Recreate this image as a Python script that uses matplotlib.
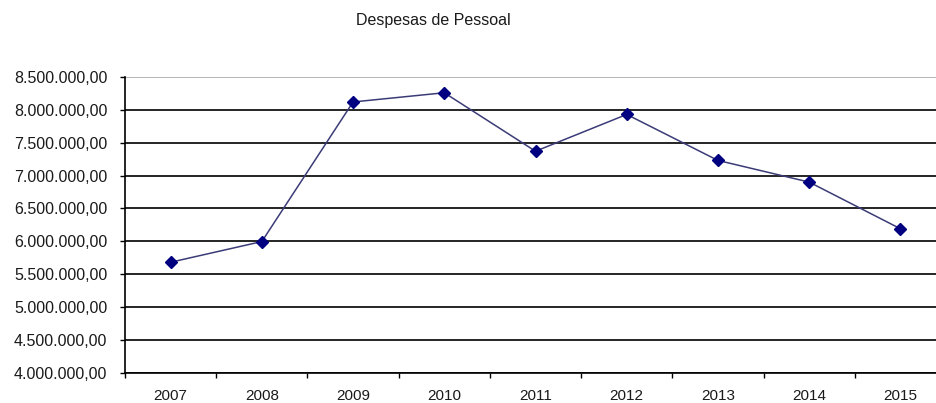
import matplotlib
matplotlib.use('Agg')
import matplotlib.pyplot as plt
from matplotlib.ticker import FuncFormatter, FixedLocator
import numpy as np

plt.rcParams['font.family'] = ['Liberation Sans', 'DejaVu Sans']

#Plot data
years = ['2007', '2008', '2009', '2010', '2011', '2012', '2013', '2014', '2015']
despesas = [5680000, 5995000, 8120000, 8260000, 7370000, 7930000, 7230000, 6900000, 6190000]

fig = plt.figure(figsize=(9.36, 4.03), dpi=100)
ax = fig.add_axes([125 / 936, 30.4 / 403, 821 / 936, 295.6 / 403])

x = np.arange(len(years))
ax.plot(x, despesas, color='#3b3b78', linewidth=1.1, marker='D', markersize=6,
        markerfacecolor='#000080', markeredgecolor='#000080', zorder=3)

ax.set_xlim(-0.5, len(years) - 0.5)
ax.set_ylim(4000000, 8500000)
ax.set_yticks(np.arange(4000000, 8500001, 500000))


def fmt(v, pos):
    s = '{:,.2f}'.format(v)
    return s.replace(',', 'X').replace('.', ',').replace('X', '.')


ax.yaxis.set_major_formatter(FuncFormatter(fmt))

# category labels between boundary ticks
ax.xaxis.set_major_locator(FixedLocator(np.arange(-0.5, len(years), 1.0)))
ax.xaxis.set_minor_locator(FixedLocator(x))
ax.set_xticklabels([])
ax.set_xticklabels(years, minor=True)
ax.tick_params(axis='x', which='major', length=3.6, width=1, color='black', direction='out')
ax.tick_params(axis='x', which='minor', length=0, pad=12, labelsize=11, labelcolor='#1a1a1a')
ax.tick_params(axis='y', length=3.6, width=1, color='black', direction='out', pad=9,
               labelsize=11.5, labelcolor='#1a1a1a')

ax.grid(axis='y', color='black', linewidth=1.2)
gl = ax.yaxis.get_gridlines()
gl[-1].set_color('#aaaaaa')
ax.set_axisbelow(True)

for side in ['top', 'right']:
    ax.spines[side].set_visible(False)
ax.spines['left'].set_linewidth(1.2)
ax.spines['bottom'].set_linewidth(1.2)

fig.text(433 / 936, 1 - 20 / 403, 'Despesas de Pessoal', ha='center', va='center',
         fontsize=11.5, color='#1a1a1a')

plt.savefig('out.png', dpi=100)
